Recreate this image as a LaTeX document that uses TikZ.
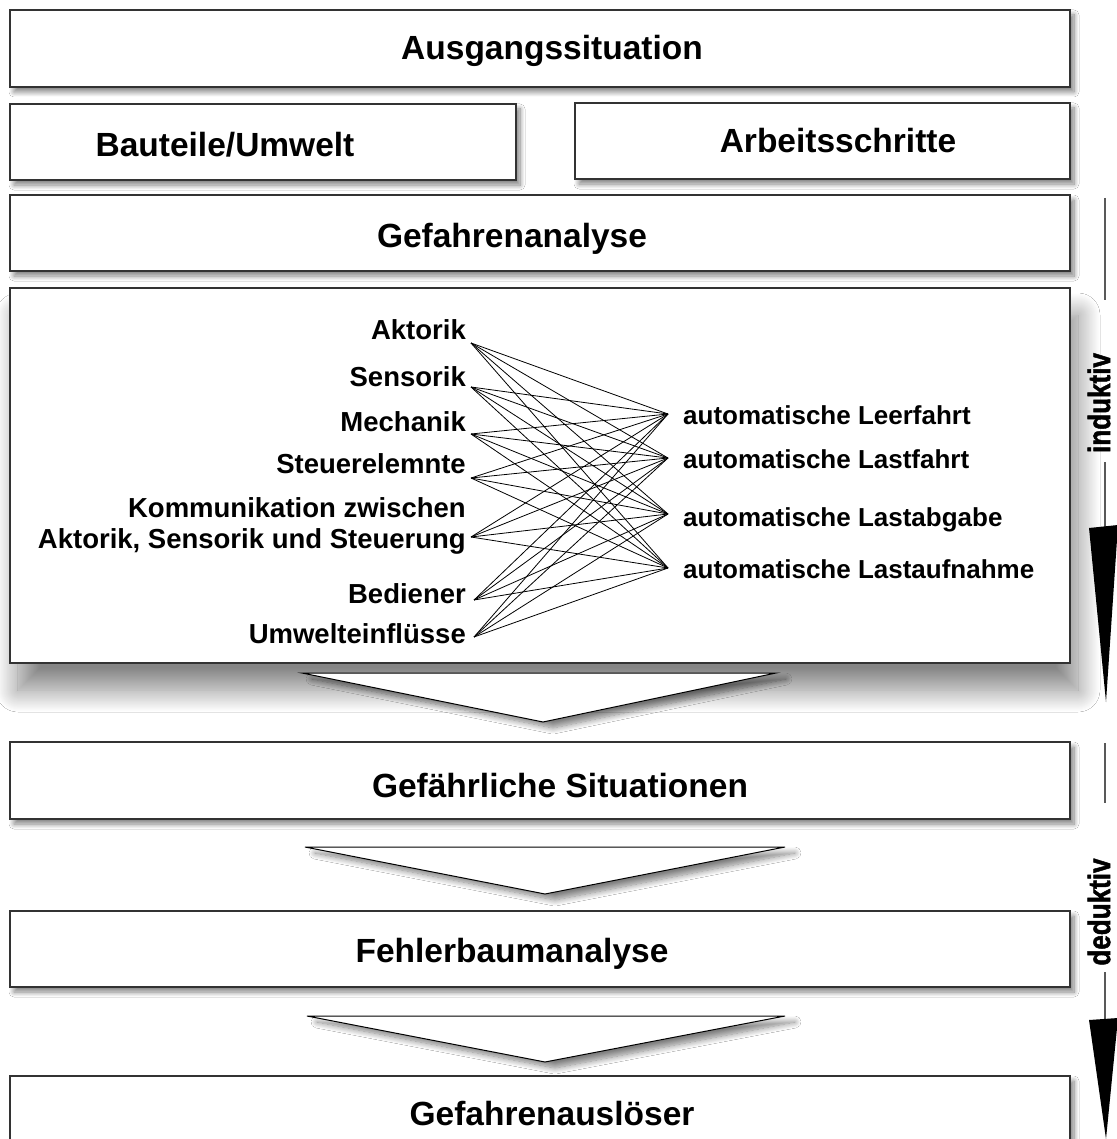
\documentclass[tikz,border=0pt]{standalone}
\usepackage{fontspec}
\setmainfont{Liberation Sans}
\newfontfamily\sidefont[FakeStretch=0.84, FakeBold=1.5]{Liberation Sans}
\usetikzlibrary{shadows.blur}
\begin{document}
\begin{tikzpicture}[x=1pt,y=-1pt,
  box/.style={draw=black!80, line width=1.3pt, fill=white, inner sep=0pt,
    blur shadow={shadow xshift=4pt, shadow yshift=-5pt, shadow blur radius=5pt, shadow blur steps=10, shadow opacity=50}},
  bigbox/.style={draw=black!80, line width=1.3pt, fill=white, inner sep=0pt,
    blur shadow={shadow xshift=8pt, shadow yshift=-27pt, shadow blur radius=22pt, shadow blur steps=24, shadow opacity=48}},
  title/.style={font=\fontsize{33.5}{40}\selectfont\bfseries, inner sep=0pt},
  lbl/.style={font=\fontsize{27.5}{32}\selectfont\bfseries, inner sep=0pt},
  rlbl/.style={font=\fontsize{26}{30}\selectfont\bfseries, inner sep=0pt},
  side/.style={font=\sidefont\fontsize{31}{35}\selectfont\bfseries, inner sep=0pt, rotate=90},
  fan/.style={line width=0.8pt},
  tickline/.style={draw=black!65, line width=1.2pt},
  funnel/.style={draw=black, line width=1pt, fill=white,
    blur shadow={shadow xshift=10pt, shadow yshift=-6pt, shadow blur radius=6pt, shadow blur steps=10, shadow opacity=50}}
]
\useasboundingbox[fill=white] (0,0) rectangle (1116,1139);

% boxes
\node[box, minimum width=1060pt, minimum height=77pt] (b1) at (540,48.5) {};
\node[box, minimum width=506pt, minimum height=76pt] (b2) at (263,142) {};
\node[box, minimum width=495pt, minimum height=76pt] (b3) at (822.5,141) {};
\node[box, minimum width=1060pt, minimum height=76pt] (b4) at (540,233) {};
\node[bigbox, minimum width=1060pt, minimum height=375pt] (b5) at (540,475.5) {};
\node[box, minimum width=1060pt, minimum height=77pt] (b6) at (540,780.5) {};
\node[box, minimum width=1060pt, minimum height=76pt] (b7) at (540,949) {};
\node[box, minimum width=1060pt, minimum height=77pt] (b8) at (540,1114.5) {};

% titles
\node[title, anchor=base] (t1) at (552,60) {Ausgangssituation};
\node[title, anchor=base] (t2) at (225,157) {Bauteile/Umwelt};
\node[title, anchor=base] (t3) at (838,153) {Arbeitsschritte};
\node[title, anchor=base] (t4) at (512,248) {Gefahrenanalyse};
\node[title, anchor=base] (t6) at (560,797) {Gefährliche Situationen};
\node[title, anchor=base] (t7) at (512,962) {Fehlerbaumanalyse};
\node[title, anchor=base] (t8) at (552,1125) {Gefahrenauslöser};

% funnels
\draw[funnel] (302,673) -- (776,673) -- (543,722) -- cycle;
\draw[funnel] (305,847) -- (785,847) -- (545,894) -- cycle;
\draw[funnel] (307,1016) -- (785,1016) -- (545,1062) -- cycle;

% left labels
\node[lbl, anchor=base east] (l1) at (466,339) {Aktorik};
\node[lbl, anchor=base east] (l2) at (466,386) {Sensorik};
\node[lbl, anchor=base east] (l3) at (466,431) {Mechanik};
\node[lbl, anchor=base east] (l4) at (466,473) {Steuerelemnte};
\node[lbl, anchor=base east] (l5a) at (466,517) {Kommunikation zwischen};
\node[lbl, anchor=base east] (l5) at (466,548) {Aktorik, Sensorik und Steuerung};
\node[lbl, anchor=base east] (l6) at (466,603) {Bediener};
\node[lbl, anchor=base east] (l7) at (466,643) {Umwelteinflüsse};

% right labels
\node[rlbl, anchor=base west] (r1) at (683,424) {automatische Leerfahrt};
\node[rlbl, anchor=base west] (r2) at (683,468) {automatische Lastfahrt};
\node[rlbl, anchor=base west] (r3) at (683,526) {automatische Lastabgabe};
\node[rlbl, anchor=base west] (r4) at (683,578) {automatische Lastaufnahme};

% fan points
\coordinate (p1) at (471,343);
\coordinate (p2) at (471,387);
\coordinate (p3) at (471,434);
\coordinate (p4) at (471,478);
\coordinate (p5) at (471,537);
\coordinate (p6) at (474,600);
\coordinate (p7) at (474,637);
\coordinate (q1) at (668,414);
\coordinate (q2) at (668,458);
\coordinate (q3) at (668,514);
\coordinate (q4) at (668,568);
\foreach \l in {p1,p2,p3,p4,p5,p6,p7}
  \foreach \r in {q1,q2,q3,q4}
    \draw[fan] (\l) -- (\r);

% induktiv / deduktiv
\coordinate (i0) at (1105,198);
\coordinate (i1) at (1105,300);
\node[side] (ind) at (1099,403) {induktiv};
\coordinate (i2) at (1105,462);
\coordinate (i3) at (1105,528);
\draw[tickline] (i0) -- (i1);
\draw[tickline] (i2) -- (i3);
\fill (1089,528) -- (1118,525) -- (1106,702) -- cycle;

\coordinate (d0) at (1105,743);
\coordinate (d1) at (1105,803);
\node[side] (ded) at (1099,912) {deduktiv};
\coordinate (d2) at (1105,972);
\coordinate (d3) at (1105,1021);
\draw[tickline] (d0) -- (d1);
\draw[tickline] (d2) -- (d3);
\fill (1089,1020) -- (1118,1018) -- (1106,1139) -- cycle;
\end{tikzpicture}
\end{document}
